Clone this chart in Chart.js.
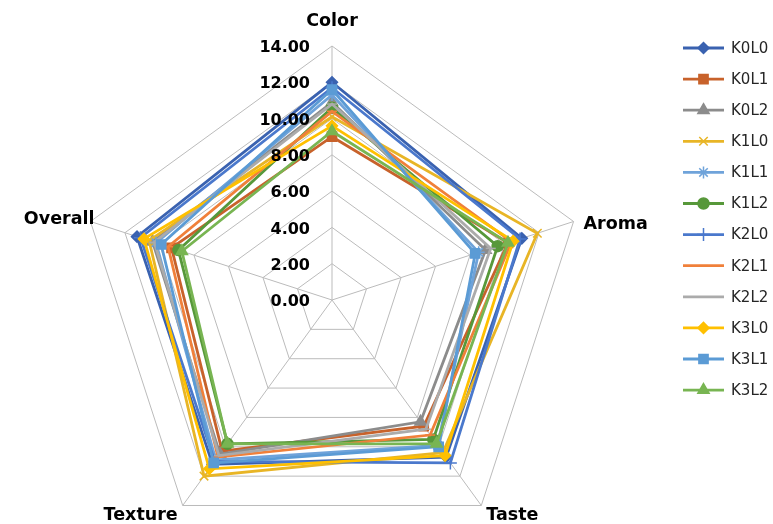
<!DOCTYPE html>
<html>
<head>
<meta charset="utf-8">
<script src="https://cdn.jsdelivr.net/npm/chart.js@4/dist/chart.umd.min.js"></script>
<style>
  html, body { margin: 0; padding: 0; background: #ffffff; }
  #wrap { width: 773px; height: 524px; }
</style>
</head>
<body>
<div id="wrap"><canvas id="c" width="773" height="524"></canvas></div>
<script>
const categories = ['Color', 'Aroma', 'Taste', 'Texture', 'Overall'];
const seriesNames = ['K0L0', 'K0L1', 'K0L2', 'K1L0', 'K1L1', 'K1L2', 'K2L0', 'K2L1', 'K2L2', 'K3L0', 'K3L1', 'K3L2'];
const tickValues = [0, 2, 4, 6, 8, 10, 12, 14];

const K0L0 = [12.0, 11.0, 10.7, 11.2, 11.3];
const K0L1 = [9.0, 10.2, 8.6, 10.3, 9.3];
const K0L2 = [10.9, 8.9, 8.3, 10.5, 10.4];
const K1L0 = [10.1, 11.9, 10.4, 12.0, 10.6];
const K1L1 = [11.3, 8.5, 9.9, 10.9, 10.2];
const K1L2 = [10.6, 9.6, 9.5, 9.8, 8.9];
const K2L0 = [11.7, 10.9, 11.1, 11.0, 11.1];
const K2L1 = [10.4, 10.4, 9.2, 10.7, 9.5];
const K2L2 = [10.8, 9.2, 8.8, 10.6, 10.3];
const K3L0 = [9.6, 10.5, 10.6, 11.5, 10.9];
const K3L1 = [11.6, 8.3, 10.0, 11.1, 9.9];
const K3L2 = [9.3, 10.2, 9.8, 9.8, 8.7];

const seriesValues = [K0L0, K0L1, K0L2, K1L0, K1L1, K1L2, K2L0, K2L1, K2L2, K3L0, K3L1, K3L2];
const seriesColors = ['#3A62B0', '#C8622B', '#8C8C8C', '#E8B526', '#6FA3DA', '#57983A',
                      '#4A78CC', '#F0803A', '#ABABAB', '#FFC000', '#5B9BD5', '#78B552'];
const seriesMarkers = ['rectRot', 'rect', 'triangle', 'crossRot', 'star', 'circle',
                       'cross', 'line', 'line', 'rectRot', 'rect', 'triangle'];
const markerSizes = [5.5, 6.5, 6.5, 6, 6, 5.5, 6.5, 5, 5, 5.5, 6.5, 6.5];

const GEOM = { cx: 332, cy: 300, r: 254 };

const datasets = seriesNames.map((name, i) => ({
  label: name,
  data: seriesValues[i],
  borderColor: seriesColors[i],
  backgroundColor: seriesColors[i],
  pointBackgroundColor: seriesColors[i],
  pointBorderColor: seriesColors[i],
  pointStyle: seriesMarkers[i],
  pointRadius: markerSizes[i],
  pointBorderWidth: 1.5,
  borderWidth: 2.8,
  fill: false,
  tension: 0,
  order: seriesNames.length - i
}));

const geomPlugin = {
  id: 'geom',
  afterLayout(chart) {
    const s = chart.scales.r;
    s.xCenter = GEOM.cx;
    s.yCenter = GEOM.cy;
    s.drawingArea = GEOM.r;
  }
};

const textPlugin = {
  id: 'texts',
  afterDraw(chart) {
    const ctx = chart.ctx;
    const s = chart.scales.r;
    ctx.save();
    // tick labels
    ctx.fillStyle = '#000000';
    ctx.font = 'bold 16px "DejaVu Sans"';
    ctx.textAlign = 'right';
    ctx.textBaseline = 'middle';
    tickValues.forEach(v => {
      const y = s.yCenter - s.getDistanceFromCenterForValue(v);
      ctx.fillText(v.toFixed(2), s.xCenter - 22, y + 2);
    });
    // point labels
    ctx.font = 'bold 17.5px "DejaVu Sans"';
    const offs = [
      { dx: 0, dy: -25, align: 'center' },
      { dx: 10, dy: 3, align: 'left' },
      { dx: 5, dy: 10, align: 'left' },
      { dx: -5, dy: 10, align: 'right' },
      { dx: 4, dy: -2, align: 'right' }
    ];
    categories.forEach((c, i) => {
      const p = s.getPointPosition(i, s.drawingArea);
      ctx.textAlign = offs[i].align;
      ctx.fillText(c, p.x + offs[i].dx, p.y + offs[i].dy);
    });
    // legend
    ctx.font = '15px "DejaVu Sans"';
    ctx.textAlign = 'left';
    chart.data.datasets.forEach((ds, i) => {
      const y = 48 + i * 31.1;
      ctx.strokeStyle = ds.borderColor;
      ctx.lineWidth = 2.8;
      ctx.beginPath();
      ctx.moveTo(683, y);
      ctx.lineTo(724, y);
      ctx.stroke();
      ctx.fillStyle = ds.borderColor;
      ctx.lineWidth = 1.5;
      Chart.helpers.drawPoint(ctx, { pointStyle: ds.pointStyle, radius: ds.pointRadius, rotation: 0, borderWidth: 1.5 }, 703.5, y);
      ctx.fillStyle = '#262626';
      ctx.fillText(ds.label, 731, y + 1);
    });
    ctx.restore();
  }
};

new Chart(document.getElementById('c'), {
  type: 'radar',
  data: { labels: categories, datasets },
  options: {
    responsive: false,
    animation: false,
    events: [],
    layout: { padding: 0 },
    plugins: { legend: { display: false }, tooltip: { enabled: false } },
    elements: { line: { tension: 0 } },
    scales: {
      r: {
        min: 0,
        max: 14,
        ticks: { stepSize: 2, display: false },
        grid: { color: '#BBBBBB', lineWidth: 1 },
        angleLines: { color: '#BBBBBB', lineWidth: 1 },
        pointLabels: { display: false },
        startAngle: 0
      }
    }
  },
  plugins: [geomPlugin, textPlugin]
});
</script>
</body>
</html>
